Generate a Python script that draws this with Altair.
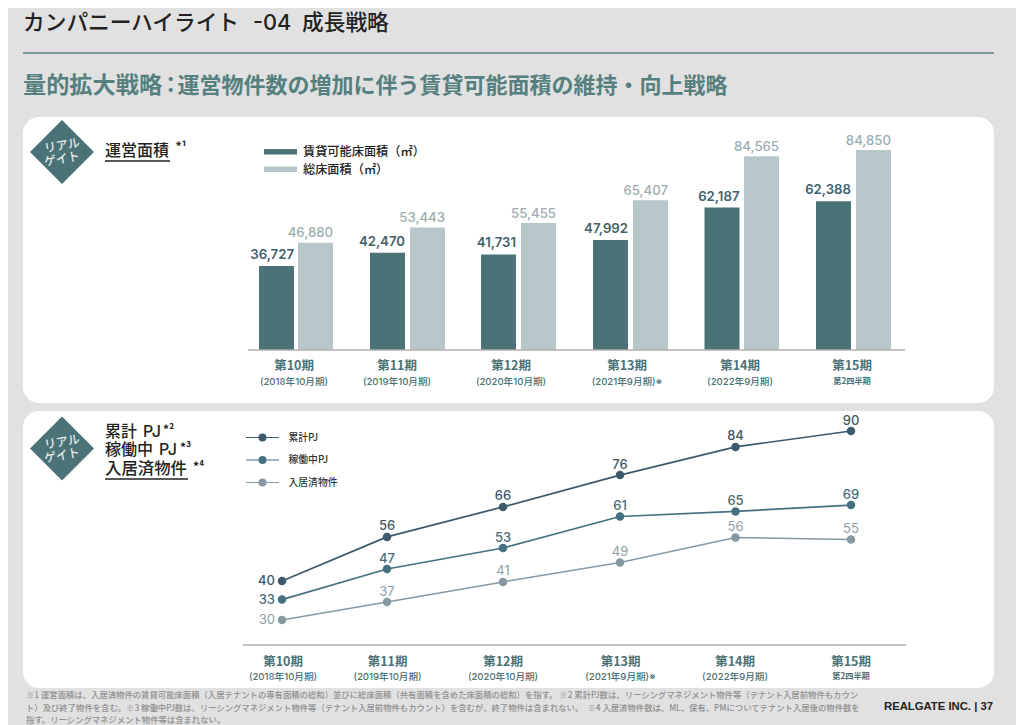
import altair as alt
import pandas as pd

# ---------- data ----------
title_parts = ["カンパニーハイライト", "-04", "成長戦略"]
subtitle_parts = ["量的拡大戦略", "：", "運営物件数の増加に伴う賃貸可能面積の維持・向上戦略"]
period_idx = [0, 1, 2, 3, 4, 5]
periods = ["第10期", "第11期", "第12期", "第13期", "第14期", "第15期"]
subs = ["(2018年10月期)", "(2019年10月期)", "(2020年10月期)", "(2021年9月期)※", "(2022年9月期)", "第2四半期"]

leasable_labels = ["36,727", "42,470", "41,731", "47,992", "62,187", "62,388"]
total_labels = ["46,880", "53,443", "55,455", "65,407", "84,565", "84,850"]
# bar heights as drawn in the picture (the last period is drawn taller than its label)
leasable_drawn = [36727, 42470, 41731, 47992, 62187, 65000]
total_drawn = [46880, 53443, 55455, 65407, 84565, 87300]

cum_labels = [40, 56, 66, 76, 84, 90]
active_labels = [33, 47, 53, 61, 65, 69]
occupied_labels = [30, 37, 41, 49, 56, 55]
# heights as drawn in the picture, on the 累計PJ series' scale
cum_drawn = [40, 54.7, 64.7, 75.3, 84.7, 90]
active_drawn = [33.8, 44, 51, 61.5, 63.2, 65.3]
occupied_drawn = [27, 33, 39.7, 46.2, 54.5, 53.8]

footnotes = [
    "※1 運営面積は、入居済物件の賃貸可能床面積（入居テナントの専有面積の総和）並びに総床面積（共有面積を含めた床面積の総和）を指す。 ※2 累計PJ数は、リーシングマネジメント物件等（テナント入居前物件もカウン",
    "ト）及び終了物件を含む。※3 稼働中PJ数は、リーシングマネジメント物件等（テナント入居前物件もカウント）を含むが、終了物件は含まれない。　※4 入居済物件数は、ML、保有、PMについてテナント入居後の物件数を",
    "指す。リーシングマネジメント物件等は含まれない。",
]

# ---------- style ----------
JP = "Noto Sans CJK JP"
NUM = "Inter, Noto Sans CJK JP"
BG = "#E1E1E1"
TEAL = "#4B7276"
LIGHT = "#B7C6C8"
C1, C2, C3 = "#3C5A6C", "#45707F", "#8699A3"
L1, L2, L3 = "#42586A", "#4A6C78", "#8C9EA7"
OFF = 8


def X(v):
    return alt.value(v - OFF)


def Y(v):
    return alt.value(v - OFF)


def txt(t, x, y, size, color="#222222", weight=400, align="left", font=JP, angle=None):
    kw = {"angle": angle} if angle is not None else {}
    return alt.Chart(pd.DataFrame({"t": [t]})).mark_text(
        fontSize=size, color=color, fontWeight=weight, align=align, baseline="middle", font=font, **kw
    ).encode(x=X(x), y=Y(y), text="t:N")


def rect(x0, x1, y0, y1, color, radius=0):
    return alt.Chart(pd.DataFrame({"a": [0]})).mark_rect(color=color, cornerRadius=radius).encode(
        x=X(x0), x2=X(x1), y=Y(y0), y2=Y(y1))


def rule(x0, x1, y, color, w):
    return alt.Chart(pd.DataFrame({"a": [0]})).mark_rule(color=color, strokeWidth=w).encode(
        x=X(x0), x2=X(x1), y=Y(y))


def dot(x, y, color, size=50, shape="circle"):
    return alt.Chart(pd.DataFrame({"a": [0]})).mark_point(
        filled=True, color=color, size=size, shape=shape, opacity=1).encode(x=X(x), y=Y(y))


def xscale(centers):
    return alt.Scale(domain=period_idx, range=[c - OFF for c in centers], zero=False, nice=False, padding=0)


layers = []

# header and panels
SUB = "#55807F"
layers += [
    txt(title_parts[0], 23, 23, 21.7, "#232323", 500),
    txt(title_parts[1], 253, 23, 21.7, "#232323", 500, font="Inter"),
    txt(title_parts[2], 302, 23, 21.7, "#232323", 500),
    rule(23, 994, 53, "#5E8083", 1.5),
    txt(subtitle_parts[0], 23, 86, 23.2, SUB, 700),
    txt(subtitle_parts[1], 160, 86, 21.4, SUB, 700),
    txt(subtitle_parts[2], 177.5, 86, 22, SUB, 700),
    rect(23, 994, 117, 403, "#FFFFFF", 16),
    rect(23, 994, 411, 688, "#FFFFFF", 16),
]

# badges
for cy, y1, y2 in [(152, 145.5, 159), (448.5, 442, 455.5)]:
    layers += [
        dot(62, cy, TEAL, 4096, "diamond"),
        txt("リアル", 62, y1, 12, "#E4ECEC", 500, "center", angle=350),
        txt("ゲイト", 62, y2, 12, "#E4ECEC", 500, "center", angle=350),
    ]

# panel headings
INK = "#222222"
layers += [
    txt("運営面積", 105, 150.5, 16, INK, 500),
    rule(105, 170, 161, INK, 1.5),
    txt("*¹", 175.5, 147, 12, INK, 700),
    txt("累計", 105, 431.5, 16, INK, 500),
    txt("PJ", 143, 431.5, 16, INK, 500, font="Inter"),
    txt("*²", 163, 429.5, 12, INK, 700),
    txt("稼働中", 105, 450, 16, INK, 500),
    txt("PJ", 159, 450, 16, INK, 500, font="Inter"),
    txt("*³", 180, 448, 12, INK, 700),
    txt("入居済物件", 105, 469, 16.4, INK, 500),
    txt("*⁴", 193, 466.5, 12, INK, 700),
    rule(105, 188, 479, INK, 1.5),
]

# bar legend
layers += [
    rect(264, 297, 149, 154.5, TEAL),
    rect(264, 297, 166.5, 172, LIGHT),
    txt("賃貸可能床面積（㎡）", 303, 151.5, 12.2, INK, 500),
    txt("総床面積（㎡）", 303, 169.5, 12.2, INK, 500),
]

# bars
bar_y = alt.Scale(domain=[0, 100000], range=[350 - OFF, 350 - OFF - 229], zero=False, nice=False)
dark_x = [276.5, 387.5, 498.5, 610.5, 722, 833.5]
light_x = [315.5, 427.5, 538.5, 650.5, 761.5, 873.5]
for vals, labs, cx, col, lab_col, w, dy in [
    (leasable_drawn, leasable_labels, dark_x, TEAL, "#41626A", 600, -11),
    (total_drawn, total_labels, light_x, LIGHT, "#9DADB0", 500, -9.5),
]:
    d = pd.DataFrame({"i": period_idx, "v": vals, "t": labs})
    enc_x = alt.X("i:Q", scale=xscale(cx), axis=None)
    enc_y = alt.Y("v:Q", scale=bar_y, axis=None, stack=None)
    layers.append(alt.Chart(d).mark_bar(size=35, color=col, orient="vertical").encode(x=enc_x, y=enc_y))
    layers.append(alt.Chart(d).mark_text(
        align="right", baseline="middle", dx=17.5, dy=dy, fontSize=13.2, color=lab_col, fontWeight=w, font=NUM
    ).encode(x=enc_x, y=enc_y, text="t:N"))

layers.append(rule(248, 905, 350, "#B5AFAF", 1.5))

# period captions
top_cap = [294, 397, 511, 627, 740, 852]
bot_cap = [283, 387.5, 503, 620.5, 735, 851]
for centres, y1, y2 in [(top_cap, 366, 381.5), (bot_cap, 661.5, 676.5)]:
    d = pd.DataFrame({"i": period_idx, "p": periods, "s": subs})
    enc_x = alt.X("i:Q", scale=xscale(centres), axis=None)
    layers.append(alt.Chart(d).mark_text(
        fontSize=12.5, fontWeight=700, color=TEAL, font=JP, baseline="middle", align="center"
    ).encode(x=enc_x, y=Y(y1), text="p:N"))
    layers.append(alt.Chart(d[d.i < 5]).mark_text(
        fontSize=9.6, fontWeight=500, color=TEAL, font=NUM, baseline="middle", align="center"
    ).encode(x=enc_x, y=Y(y2), text="s:N"))
    layers.append(alt.Chart(d[d.i == 5]).mark_text(
        fontSize=8.2, fontWeight=700, color=TEAL, font=JP, baseline="middle", align="center"
    ).encode(x=enc_x, y=Y(y2), text="s:N"))

# line legend
for y, col, name in [(437.5, C1, "累計PJ"), (460, C2, "稼働中PJ"), (482.5, C3, "入居済物件")]:
    layers += [
        rule(246, 279, y, col, 1.2),
        dot(262.5, y, col, 64),
        txt(name, 288.5, y, 9.8, "#333333", 500),
    ]

# lines
line_x_px = [282, 387, 503, 620, 735.5, 851]
line_y = alt.Scale(domain=[40, 90], range=[581 - OFF, 431 - OFF], zero=False, nice=False)
for vals, labs, col, lab_col, sw, w in [
    (cum_drawn, cum_labels, C1, L1, 1.7, 500),
    (active_drawn, active_labels, C2, L2, 1.7, 500),
    (occupied_drawn, occupied_labels, C3, L3, 1.5, 400),
]:
    d = pd.DataFrame({"i": period_idx, "v": vals, "t": labs})
    enc_x = alt.X("i:Q", scale=xscale(line_x_px), axis=None)
    enc_y = alt.Y("v:Q", scale=line_y, axis=None)
    layers.append(alt.Chart(d).mark_line(color=col, strokeWidth=sw).encode(x=enc_x, y=enc_y))
    layers.append(alt.Chart(d).mark_point(filled=True, opacity=1, color=col, size=72).encode(x=enc_x, y=enc_y))
    layers.append(alt.Chart(d[d.i > 0]).mark_text(
        dy=-10.5, fontSize=13, color=lab_col, baseline="middle", align="center", font=NUM, fontWeight=w
    ).encode(x=enc_x, y=enc_y, text="t:N"))
    layers.append(alt.Chart(d[d.i == 0]).mark_text(
        dx=-7, fontSize=13, color=lab_col, baseline="middle", align="right", font=NUM, fontWeight=w
    ).encode(x=enc_x, y=enc_y, text="t:N"))

layers.append(rule(243, 906, 645, "#B0B0B0", 1.5))

# footer
for line, y in zip(footnotes, [695, 707.5, 720]):
    layers.append(txt(line, 26, y, 8.35, "#8F8F8F", 500))
layers.append(txt("REALGATE INC. | 37", 993, 706.5, 11.3, INK, 700, "right", font="Liberation Sans"))

chart = (
    alt.layer(*layers)
    .resolve_scale(x="independent", y="independent")
    .properties(width=1008, height=717, background=BG, padding=0,
                autosize=alt.AutoSizeParams(type="none"))
    .configure_view(stroke=None)
)
chart.save("out.html", embed_options={"renderer": "svg", "actions": False})
